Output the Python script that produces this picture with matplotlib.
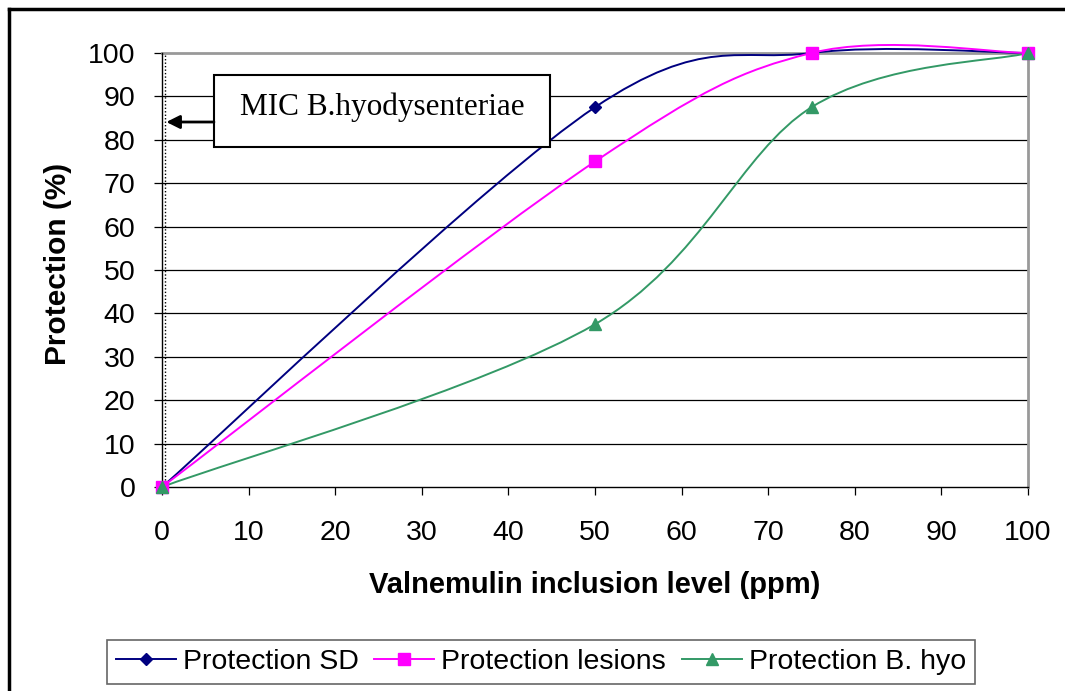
import matplotlib
matplotlib.use("Agg")
import matplotlib.pyplot as plt
from matplotlib.path import Path
from matplotlib.patches import PathPatch, Rectangle
from matplotlib.lines import Line2D

# Data
dose = [0, 50, 75, 100]
prot_sd = [0, 87.5, 100, 100]
prot_lesions = [0, 75, 100, 100]
prot_hyo = [0, 37.5, 87.5, 100]

series_names = ["Protection SD", "Protection lesions", "Protection B. hyo"]
series_colors = ["#000080", "#FF00FF", "#339966"]
series_markers = ["D", "s", "^"]
series_msize = [6, 8, 9]


def smooth_path(xs, ys):
    # Excel-like smoothed line: cubic bezier between points
    pts = list(zip(xs, ys))
    n = len(pts)
    verts = [pts[0]]
    codes = [Path.MOVETO]
    for i in range(n - 1):
        p0 = pts[i - 1] if i > 0 else pts[i]
        p1 = pts[i]
        p2 = pts[i + 1]
        p3 = pts[i + 2] if i + 2 < n else pts[i + 1]
        c1 = (p1[0] + (p2[0] - p0[0]) / 6, p1[1] + (p2[1] - p0[1]) / 6)
        c2 = (p2[0] - (p3[0] - p1[0]) / 6, p2[1] - (p3[1] - p1[1]) / 6)
        verts += [c1, c2, p2]
        codes += [Path.CURVE4] * 3
    return Path(verts, codes)


plt.rcParams['font.family'] = ['Liberation Sans', 'DejaVu Sans']
fs = 20.5

fig = plt.figure(figsize=(10.65, 6.91), dpi=100)
W, H = 1065, 691
ax = fig.add_axes([162 / W, 1 - 487 / H, (1028 - 162) / W, (487 - 53) / H])

for yy, nm, c, m, ms in zip([prot_sd, prot_lesions, prot_hyo], series_names,
                            series_colors, series_markers, series_msize):
    ax.add_patch(PathPatch(smooth_path(dose, yy), facecolor="none",
                           edgecolor=c, lw=1.4, zorder=3, clip_on=False))
    ax.plot(dose, yy, ls="none", marker=m, ms=ms, color=c, zorder=4,
            clip_on=False)

ax.set_xlim(0, 100)
ax.set_ylim(0, 100)
ax.set_xticks(range(0, 101, 10))
ax.set_yticks(range(0, 101, 10))
for yv in range(10, 100, 10):
    ax.axhline(yv, color="black", lw=0.9, zorder=1)
ax.tick_params(direction="out", length=6, width=0.9, labelsize=fs)
ax.tick_params(axis="x", pad=18)
ax.tick_params(axis="y", pad=13)
for s in ["left", "bottom"]:
    ax.spines[s].set_color("black")
    ax.spines[s].set_linewidth(1.0)
for s in ["top", "right"]:
    ax.spines[s].set_color("#999999")
    ax.spines[s].set_linewidth(2.0)
    ax.spines[s].set_zorder(2)

# MIC marker
ax.axvline(0.35, color="black", ls=(0, (1, 1.5)), lw=1.0, zorder=2)
ax.add_patch(Rectangle((6.0, 78.3), 38.8, 16.6, facecolor="white",
                       edgecolor="black", lw=1.5, zorder=5))
ax.text(25.4, 85.7, "MIC B.hyodysenteriae", ha="center", va="baseline",
        fontsize=22.5, family=["Liberation Serif"], zorder=6)
ax.annotate("", xy=(0.5, 84.1), xytext=(6.0, 84.1), zorder=6,
            arrowprops=dict(arrowstyle="-|>", color="black", lw=2,
                            mutation_scale=20, shrinkA=0, shrinkB=0))

fig.text(595 / W, 1 - 585 / H, "Valnemulin inclusion level (ppm)",
         ha="center", va="center", fontsize=21, fontweight="bold")
fig.text(58 / W, 1 - 264 / H, "Protection (%)", ha="center", va="center",
         rotation=90, fontsize=21.5, fontweight="bold")

handles = [Line2D([], [], color=c, marker=m, ms=ms, lw=1.4)
           for c, m, ms in zip(series_colors, series_markers, series_msize)]
leg = fig.legend(handles, series_names, loc="center", ncol=3,
                 bbox_to_anchor=(541 / W, 1 - 662 / H), fontsize=fs,
                 fancybox=False, edgecolor="#666666", framealpha=1,
                 handlelength=2.1, handletextpad=0.25, columnspacing=0.55,
                 borderpad=0.3, borderaxespad=0)
leg.get_frame().set_linewidth(1.2)

# outer chart border (left and top)
fig.add_artist(Line2D([9 / W, 9 / W], [0, 1 - 9 / H], color="black", lw=2.5))
fig.add_artist(Line2D([9 / W, 1], [1 - 9 / H, 1 - 9 / H], color="black", lw=2.5))

fig.savefig("out.png", dpi=100)
